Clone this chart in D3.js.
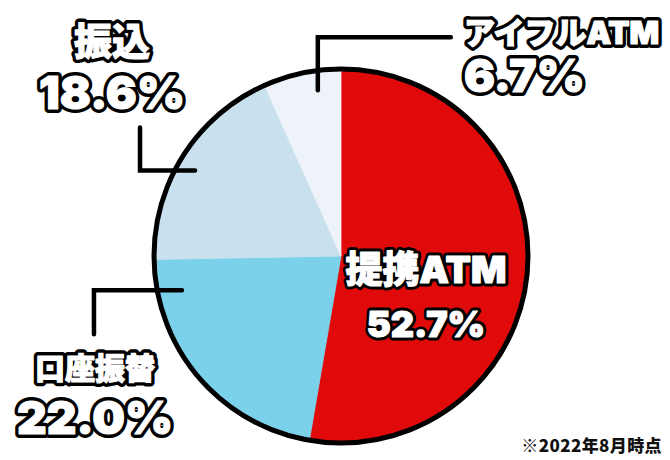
<!DOCTYPE html>
<html><head><meta charset="utf-8">
<script src="https://cdn.jsdelivr.net/npm/d3@7"></script>
<style>
html,body{margin:0;padding:0;background:#fff;}
svg{display:block;}
text{font-family:"Inter","Noto Sans CJK JP","Noto Sans",sans-serif;font-weight:900;}
text.note{font-family:"Noto Sans CJK JP","Noto Sans",sans-serif;}
</style></head>
<body>
<svg id="chart" width="670" height="460"></svg>
<script>
const categories = ["提携ATM", "口座振替", "振込", "アイフルATM"];
const values = [52.7, 22.0, 18.6, 6.7];
const valueLabels = ["52.7%", "22.0%", "18.6%", "6.7%"];
const note = "※2022年8月時点";

const W = 670, H = 460;
const cx = 341, cy = 256, R = 187;
const svg = d3.select("#chart");

const color = d3.scaleOrdinal().domain(categories)
  .range(["#e10a0a", "#7bd0ea", "#c9e1ee", "#edf3f9"]);

const pie = d3.pie().sort(null).value(d => d.v);
const data = categories.map((c, i) => ({ c, v: values[i], lab: valueLabels[i] }));
const arcs = pie(data);
const arc = d3.arc().innerRadius(0).outerRadius(R);

const g = svg.append("g").attr("transform", `translate(${cx},${cy})`);
g.selectAll("path.slice").data(arcs).join("path")
  .attr("class", "slice")
  .attr("d", arc)
  .attr("fill", d => color(d.data.c))
  .attr("stroke", d => color(d.data.c))
  .attr("stroke-width", 0.8);
g.append("circle").attr("r", R).attr("fill", "none")
  .attr("stroke", "#000").attr("stroke-width", 5);

const pt = (a, r) => [r * Math.sin(a), -r * Math.cos(a)];
const at = (d, f) => d.startAngle + (d.endAngle - d.startAngle) * f;

const leaders = [
  null,
  { f: 0.86, r: 0.87, path: p => [p, [p[0] - 88, p[1]], [p[0] - 88, p[1] + 44]] },
  { f: 0.47, r: 0.905, path: p => [p, [p[0] - 55, p[1]], [p[0] - 55, p[1] - 43]] },
  { f: 0.67, r: 0.895, path: p => [p, [p[0], p[1] - 53], [p[0] + 133, p[1] - 53]] }
];
const line = d3.line();
arcs.forEach((d, i) => {
  const L = leaders[i];
  if (!L) return;
  const p = pt(at(d, L.f), R * L.r);
  g.append("path").attr("d", line(L.path(p)))
    .attr("fill", "none").attr("stroke", "#000")
    .attr("stroke-width", 4.5).attr("stroke-linecap", "round")
    .attr("stroke-linejoin", "miter");
});

const labelPos = [
  { x: 426, y1: 283, s1: 37, y2: 337, s2: 36, anchor: "middle", sw: 7, ls: 0 },
  { x: 95, y1: 379, s1: 30, y2: 434, s2: 46, anchor: "middle", sw: 8, ls: 0 },
  { x: 112, y1: 55, s1: 38, y2: 109, s2: 46, anchor: "middle", sw: 8, ls: 0 },
  { x: 464, y1: 44, s1: 31, y2: 92, s2: 46, anchor: "start", sw: 8, ls: 0 }
];
function outlined(x, y, size, txt, anchor, sw, ls) {
  const t = svg.append("g");
  t.append("text").attr("x", x).attr("y", y)
    .attr("text-anchor", anchor).attr("font-size", size)
    .attr("fill", "#000").attr("stroke", "#000").attr("stroke-width", sw)
    .attr("stroke-linejoin", "round").attr("letter-spacing", ls)
    .text(txt);
  t.append("text").attr("x", x).attr("y", y)
    .attr("text-anchor", anchor).attr("font-size", size)
    .attr("fill", "#fff").attr("stroke", "#fff").attr("stroke-width", 1.2)
    .attr("stroke-linejoin", "round").attr("letter-spacing", ls)
    .text(txt);
}
arcs.forEach((d, i) => {
  const P = labelPos[i];
  outlined(P.x, P.y1, P.s1, d.data.c, P.anchor, P.sw, P.ls);
  outlined(P.x, P.y2, P.s2, d.data.lab, P.anchor, P.sw, P.ls);
});

svg.append("text").attr("class", "note").attr("x", 662).attr("y", 452)
  .attr("text-anchor", "end").attr("font-size", 17)
  .attr("letter-spacing", 0.4)
  .attr("fill", "#111").text(note);
</script>
</body></html>
